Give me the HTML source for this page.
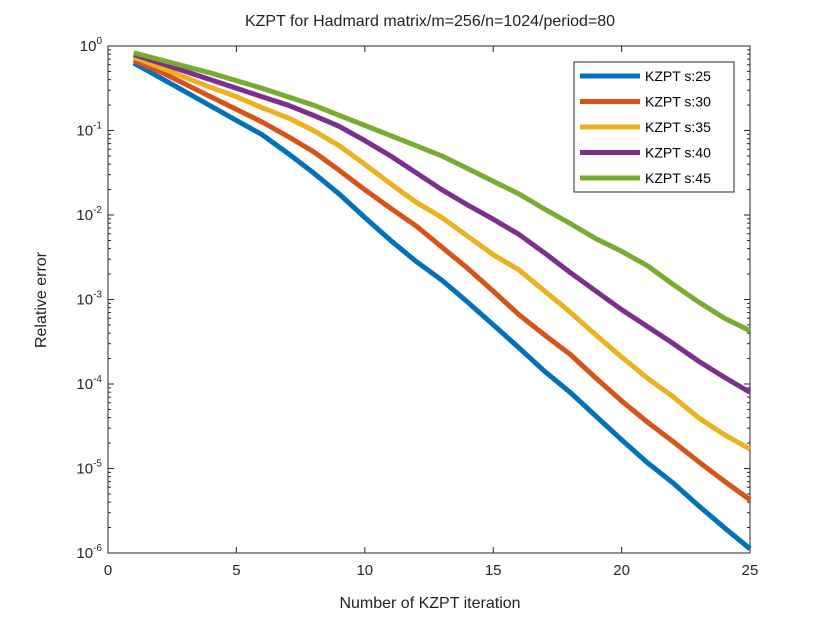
<!DOCTYPE html>
<html><head><meta charset="utf-8"><style>
body{margin:0;background:#fff;}
svg{display:block;font-family:"Liberation Sans",sans-serif;}
</style></head><body>
<svg id="chart" width="830" height="623">
<text x="430" y="26" font-size="16" text-anchor="middle" fill="#222">KZPT for Hadmard matrix/m=256/n=1024/period=80</text>
<text x="430" y="608" font-size="16" text-anchor="middle" fill="#222">Number of KZPT iteration</text>
<text transform="translate(46,300) rotate(-90)" font-size="16" text-anchor="middle" fill="#222">Relative error</text>
<g id="axes"></g>
<g id="series"></g>
<g id="legend"></g>
</svg>
<script>
const xValues=[1,2,3,4,5,6,7,8,9,10,11,12,13,14,15,16,17,18,19,20,21,22,23,24,25];
const seriesNames=["KZPT s:25","KZPT s:30","KZPT s:35","KZPT s:40","KZPT s:45"];
const s25=[-0.2,-0.37,-0.54,-0.71,-0.88,-1.05,-1.27,-1.5,-1.75,-2.03,-2.3,-2.55,-2.77,-3.03,-3.3,-3.57,-3.85,-4.1,-4.38,-4.66,-4.93,-5.17,-5.44,-5.7,-5.95];
const s30=[-0.17,-0.3,-0.45,-0.6,-0.75,-0.9,-1.07,-1.25,-1.47,-1.7,-1.92,-2.13,-2.38,-2.63,-2.9,-3.18,-3.42,-3.65,-3.93,-4.2,-4.45,-4.68,-4.92,-5.15,-5.37];
const s35=[-0.13,-0.25,-0.37,-0.49,-0.6,-0.73,-0.85,-1.0,-1.18,-1.4,-1.63,-1.85,-2.03,-2.25,-2.47,-2.65,-2.9,-3.15,-3.42,-3.68,-3.93,-4.15,-4.4,-4.6,-4.77];
const s40=[-0.1,-0.2,-0.3,-0.4,-0.5,-0.6,-0.7,-0.82,-0.95,-1.12,-1.3,-1.5,-1.7,-1.88,-2.05,-2.23,-2.45,-2.68,-2.9,-3.12,-3.32,-3.52,-3.73,-3.92,-4.1];
const s45=[-0.08,-0.16,-0.24,-0.32,-0.41,-0.5,-0.6,-0.7,-0.82,-0.94,-1.06,-1.18,-1.3,-1.45,-1.6,-1.75,-1.93,-2.1,-2.28,-2.43,-2.6,-2.82,-3.03,-3.22,-3.37];
const xTicks=[0,5,10,15,20,25];
const yTickExps=[0,-1,-2,-3,-4,-5,-6];

const NS="http://www.w3.org/2000/svg";
const L=108,R=750,T=46,B=553;
const xs=v=>L+(v-0)/25*(R-L);
const ys=lg=>T+(0-lg)/6*(B-T);
function mk(tag,attrs,parent){const e=document.createElementNS(NS,tag);for(const k in attrs)e.setAttribute(k,attrs[k]);parent.appendChild(e);return e;}
const axes=document.getElementById('axes');
let box=mk('rect',{x:L,y:T,width:R-L,height:B-T,fill:'none',stroke:'#262626','stroke-width':1},axes);


xTicks.forEach(t=>{
  const x=xs(t);
  mk('line',{x1:x,x2:x,y1:B,y2:B-6,stroke:'#262626'},axes);
  mk('line',{x1:x,x2:x,y1:T,y2:T+6,stroke:'#262626'},axes);
  const tx=mk('text',{x:x,y:B+22,'font-size':15,'text-anchor':'middle',fill:'#262626'},axes);
  tx.textContent=t;
  
  
});
yTickExps.forEach(e=>{
  const y=ys(e);
  mk('line',{x1:L,x2:L+6,y1:y,y2:y,stroke:'#262626'},axes);
  mk('line',{x1:R,x2:R-6,y1:y,y2:y,stroke:'#262626'},axes);
  if(e>-6){for(let m=2;m<=9;m++){const yy=ys(e-1+Math.log10(m));
    mk('line',{x1:L,x2:L+3,y1:yy,y2:yy,stroke:'#262626'},axes);
    mk('line',{x1:R,x2:R-3,y1:yy,y2:yy,stroke:'#262626'},axes);}}
  const tx=mk('text',{x:L-6,y:y+5,'font-size':15,'text-anchor':'end',fill:'#262626'},axes);
  tx.innerHTML='10<tspan dy="-7" font-size="10">'+e+'</tspan>';
  
  
});
const colors=['#0072BD','#D95319','#EDB120','#7E2F8E','#77AC30'];
const data=[s25,s30,s35,s40,s45];
const sg=document.getElementById('series');
data.forEach((arr,i)=>{
  const d=arr.map((v,j)=>(j?'L':'M')+xs(xValues[j]).toFixed(1)+','+ys(v).toFixed(1)).join('');
  const p=mk('path',{d:d,fill:'none',stroke:colors[i],'stroke-width':5,'stroke-linejoin':'round'},sg);
  
  
});
const lg=document.getElementById('legend');
const lb=mk('rect',{x:574,y:62,width:160,height:130,fill:'#fff',stroke:'#262626'},lg);


seriesNames.forEach((n,i)=>{
  const y=76+i*25.5;
  mk('line',{x1:580,x2:640,y1:y,y2:y,stroke:colors[i],'stroke-width':5},lg);
  const t=mk('text',{x:645,y:y+5,'font-size':14,fill:'#000'},lg);
  t.textContent=n;
  
  
});
</script>
</body></html>
